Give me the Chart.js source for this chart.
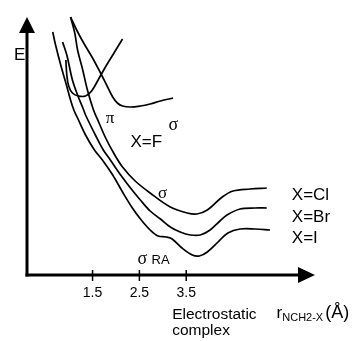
<!DOCTYPE html>
<html>
<head>
<meta charset="utf-8">
<script src="https://cdn.jsdelivr.net/npm/chart.js@4.4.1/dist/chart.umd.min.js"></script>
<style>
  html, body { margin: 0; padding: 0; background: #fff; }
  canvas { display: block; }
</style>
</head>
<body>
<canvas id="chart" width="361" height="341"></canvas>
<script>
// distance r (Å) and energy E (arbitrary units)
const rCl = [1.03, 1.12, 1.18, 1.29, 1.39, 1.52, 1.63, 1.78, 1.95, 2.14, 2.41, 2.73, 3.16, 3.52, 3.73, 3.95, 4.27, 4.50, 4.86, 5.22];
const eCl = [10.32, 9.68, 9.0, 8.2, 7.4, 6.6, 6.12, 5.48, 4.88, 4.32, 3.76, 3.28, 2.72, 2.48, 2.44, 2.6, 3.12, 3.36, 3.44, 3.48];

const rBr = [0.86, 0.95, 1.07, 1.18, 1.31, 1.35, 1.56, 1.73, 1.88, 2.10, 2.31, 2.52, 2.73, 2.95, 3.16, 3.37, 3.59, 3.80, 4.01, 4.22, 4.37, 4.65, 4.97, 5.22];
const eBr = [9.32, 8.8, 7.8, 7.2, 6.6, 6.4, 5.6, 5.0, 4.6, 4.0, 3.48, 3.0, 2.56, 2.24, 1.92, 1.72, 1.6, 1.6, 1.8, 2.16, 2.4, 2.64, 2.68, 2.68];

const rI = [0.65, 0.71, 0.82, 0.93, 1.03, 1.10, 1.18, 1.35, 1.54, 1.71, 1.93, 2.14, 2.35, 2.54, 2.73, 2.90, 3.07, 3.20, 3.41, 3.63, 3.78, 3.95, 4.18, 4.39, 4.65, 4.97, 5.29];
const eI = [9.72, 9.2, 8.4, 7.68, 7.0, 6.6, 6.28, 5.6, 5.0, 4.6, 4.0, 3.32, 2.68, 2.2, 1.8, 1.56, 1.52, 1.44, 1.08, 0.8, 0.76, 0.92, 1.32, 1.68, 1.84, 1.84, 1.8];

// X=F, sigma state
const rFsig = [1.03, 1.16, 1.31, 1.50, 1.67, 1.80, 1.93, 2.03, 2.14, 2.31, 2.52, 2.73, 2.95, 3.22];
const eFsig = [10.32, 9.8, 9.28, 8.68, 8.08, 7.6, 7.12, 6.88, 6.76, 6.72, 6.76, 6.84, 6.96, 7.08];

// X=F, pi state
const rFpi = [0.93, 0.95, 0.99, 1.07, 1.20, 1.35, 1.48, 1.63, 1.80, 1.97, 2.14];
const eFpi = [8.6, 8.0, 7.56, 7.28, 7.16, 7.16, 7.36, 7.84, 8.4, 8.92, 9.44];

const tickValues = [1.5, 2.5, 3.5];
const tickLabels = ['1.5', '2.5', '3.5'];

const toPoints = (xs, ys) => xs.map((x, i) => ({ x: x, y: ys[i] }));

const curve = (label, xs, ys) => ({
  label: label,
  data: toPoints(xs, ys),
  borderColor: '#000',
  borderWidth: 1.7,
  pointRadius: 0,
  tension: 0.35,
  fill: false,
  clip: false,
});

// text placed in data units
const notes = [
  { text: 'π', x: 1.78, y: 6.08, font: '17px "Liberation Serif"' },
  { text: 'X=F', x: 2.31, y: 5.12, font: '17px "Liberation Sans"' },
  { text: 'σ', x: 3.12, y: 5.8, font: '18px "Liberation Serif"' },
  { text: 'σ', x: 2.90, y: 3.08, font: '17px "Liberation Serif"' },
  { text: 'σ', x: 2.46, y: 0.44, font: '18px "Liberation Serif"' },
  { text: 'RA', x: 2.76, y: 0.44, font: '13px "Liberation Sans"' },
  { text: 'X=Cl', x: 5.755, y: 3.0, font: '17px "Liberation Sans"' },
  { text: 'X=Br', x: 5.755, y: 2.12, font: '17px "Liberation Sans"' },
  { text: 'X=I', x: 5.755, y: 1.28, font: '17px "Liberation Sans"' },
  { text: 'Electrostatic', x: 3.20, y: -1.74, font: '15.5px "Liberation Sans"' },
  { text: 'complex', x: 3.20, y: -2.38, font: '15.5px "Liberation Sans"' },
  { text: 'E', x: -0.18, y: 8.6, font: '17px "Liberation Sans"' },
];

const sketchAxes = {
  id: 'sketchAxes',
  afterDatasetsDraw(chart) {
    const { ctx, chartArea, scales } = chart;
    const xs = scales.x, ys = scales.y;
    const left = chartArea.left, bottom = chartArea.bottom;
    const top = chartArea.top + 2, right = chartArea.right;
    ctx.save();
    ctx.strokeStyle = '#000';
    ctx.fillStyle = '#000';
    ctx.lineWidth = 3;

    // y axis with arrow
    ctx.beginPath();
    ctx.moveTo(left, bottom + 1.5);
    ctx.lineTo(left, top + 14);
    ctx.stroke();
    ctx.beginPath();
    ctx.moveTo(left - 8, top + 16);
    ctx.lineTo(left + 8, top + 16);
    ctx.lineTo(left, top);
    ctx.closePath();
    ctx.fill();

    // x axis with arrow
    ctx.beginPath();
    ctx.moveTo(left - 1.5, bottom);
    ctx.lineTo(right - 15, bottom);
    ctx.stroke();
    ctx.beginPath();
    ctx.moveTo(right - 17, bottom - 8);
    ctx.lineTo(right - 17, bottom + 8);
    ctx.lineTo(right, bottom);
    ctx.closePath();
    ctx.fill();

    // ticks and tick labels
    ctx.lineWidth = 1.5;
    ctx.font = '14px "Liberation Sans"';
    ctx.textAlign = 'center';
    ctx.textBaseline = 'alphabetic';
    tickValues.forEach((v, i) => {
      const px = xs.getPixelForValue(v);
      ctx.beginPath();
      ctx.moveTo(px, bottom - 5);
      ctx.lineTo(px, bottom + 6);
      ctx.stroke();
      ctx.fillText(tickLabels[i], px, bottom + 22);
    });

    // annotations
    ctx.textAlign = 'left';
    notes.forEach(n => {
      ctx.font = n.font;
      ctx.fillText(n.text, xs.getPixelForValue(n.x), ys.getPixelForValue(n.y));
    });

    // axis title r_NCH2-X (Å)
    let px = xs.getPixelForValue(5.43);
    const py = ys.getPixelForValue(-1.72);
    ctx.font = '17px "Liberation Sans"';
    ctx.fillText('r', px, py);
    px += ctx.measureText('r').width;
    ctx.font = '11px "Liberation Sans"';
    ctx.fillText('NCH2-X', px, py + 3);
    px += ctx.measureText('NCH2-X').width + 2;
    ctx.font = '18px "Liberation Sans"';
    ctx.fillText('(Å)', px, py);
    ctx.restore();
  }
};

new Chart(document.getElementById('chart'), {
  type: 'line',
  data: {
    datasets: [
      curve('X=Cl', rCl, eCl),
      curve('X=Br', rBr, eBr),
      curve('X=I', rI, eI),
      curve('X=F sigma', rFsig, eFsig),
      curve('X=F pi', rFpi, eFpi),
    ],
  },
  options: {
    responsive: false,
    animation: false,
    layout: { padding: { left: 27, right: 46, top: 15, bottom: 66 } },
    plugins: {
      legend: { display: false },
      tooltip: { enabled: false },
    },
    scales: {
      x: { type: 'linear', min: 0.1, max: 6.25, display: false },
      y: { type: 'linear', min: 0, max: 10.4, display: false },
    },
  },
  plugins: [sketchAxes],
});
</script>
</body>
</html>
